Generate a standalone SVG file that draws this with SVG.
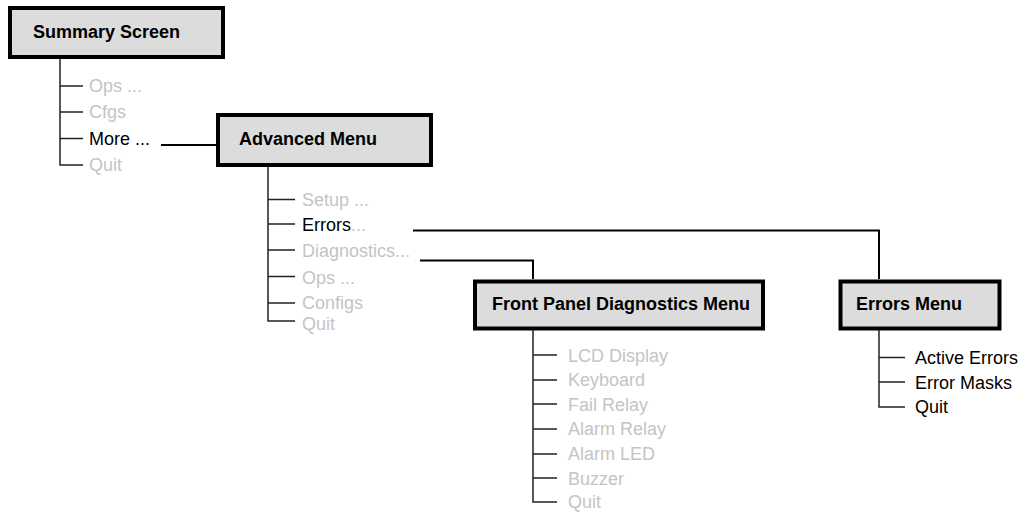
<svg xmlns="http://www.w3.org/2000/svg" width="1019" height="512" viewBox="0 0 1019 512">
<style>
.box{fill:#dcdcdc;stroke:#000;stroke-width:4}
.title{font-family:"Liberation Sans",Arial,sans-serif;font-weight:bold;font-size:18px;fill:#000}
.item{font-family:"Liberation Sans",Arial,sans-serif;font-size:18px;fill:#c4c4c4}
.on{fill:#000}
.tree{fill:none;stroke:#222;stroke-width:1.5}
.conn{fill:none;stroke:#000;stroke-width:2}
</style>
<rect width="1019" height="512" fill="#fff"/>
<g id="connectors">
<path class="conn" d="M161 145H217"/>
<path class="conn" d="M413 230.5H879V279"/>
<path class="conn" d="M420 260.5H533V279"/>
</g>
<g id="summary-screen">
<rect class="box" x="10" y="8" width="213" height="49"/>
<text class="title" x="33" y="38">Summary Screen</text>
<path class="tree" d="M60 59V165H83M60 86H83M60 112H83M60 138.5H83"/>
<text class="item" x="89" y="92">Ops ...</text>
<text class="item" x="89" y="118">Cfgs</text>
<text class="item on" x="89" y="145">More ...</text>
<text class="item" x="89" y="171">Quit</text>
</g>
<g id="advanced-menu">
<rect class="box" x="218" y="115" width="213" height="50"/>
<text class="title" x="239" y="145">Advanced Menu</text>
<path class="tree" d="M268 167V321H295M268 199.5H295M268 224H295M268 250H295M268 276.5H295M268 303H295"/>
<text class="item" x="302" y="206">Setup ...</text>
<text class="item" x="302" y="231"><tspan class="on">Errors</tspan>...</text>
<text class="item" x="302" y="257">Diagnostics...</text>
<text class="item" x="302" y="284">Ops ...</text>
<text class="item" x="302" y="309">Configs</text>
<text class="item" x="302" y="330">Quit</text>
</g>
<g id="front-panel-diagnostics-menu">
<rect class="box" x="475" y="281.5" width="288" height="47"/>
<text class="title" x="492" y="310">Front Panel Diagnostics Menu</text>
<path class="tree" d="M533 330V502H557M533 355H557M533 380H557M533 404H557M533 429H557M533 454H557M533 478H557"/>
<text class="item" x="568" y="362">LCD Display</text>
<text class="item" x="568" y="386">Keyboard</text>
<text class="item" x="568" y="411">Fail Relay</text>
<text class="item" x="568" y="435">Alarm Relay</text>
<text class="item" x="568" y="460">Alarm LED</text>
<text class="item" x="568" y="485">Buzzer</text>
<text class="item" x="568" y="508">Quit</text>
</g>
<g id="errors-menu">
<rect class="box" x="840.5" y="281.5" width="159" height="47"/>
<text class="title" x="856" y="310">Errors Menu</text>
<path class="tree" d="M879 330V407H905M879 357.5H905M879 382H905"/>
<text class="item on" x="915" y="364">Active Errors</text>
<text class="item on" x="915" y="389">Error Masks</text>
<text class="item on" x="915" y="413">Quit</text>
</g>
</svg>
